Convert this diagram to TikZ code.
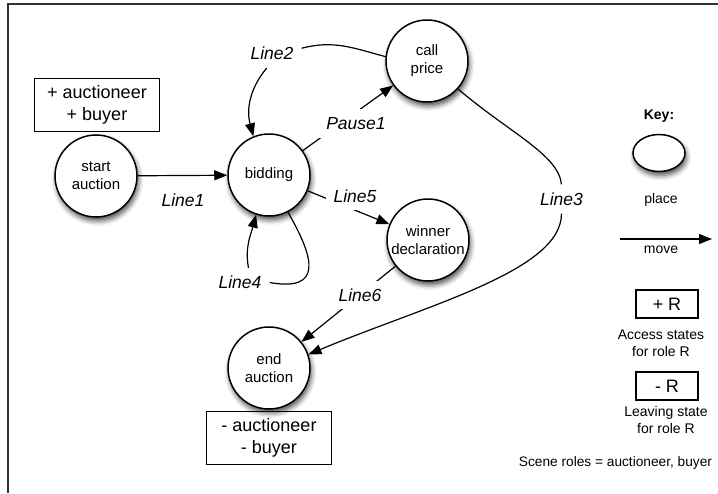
\documentclass[tikz,border=0pt]{standalone}
\usepackage{fontspec}
\setmainfont{Liberation Sans}
\usepackage{tikz}
\usetikzlibrary{arrows.meta, shapes.geometric, shadows.blur}

\begin{document}
\begin{tikzpicture}[
    x=1pt, y=1pt,
    place/.style={circle, draw, line width=1.5pt, fill=white, minimum size=82pt, inner sep=0pt, align=center,
        font=\fontsize{15}{18}\selectfont,
        blur shadow={shadow xshift=1.5pt, shadow yshift=-4pt, shadow blur radius=5pt, shadow opacity=70}},
    roles/.style={draw, line width=1.2pt, minimum width=125pt, minimum height=53pt, align=center, font=\fontsize{18}{21.6}\selectfont},
    keybox/.style={draw, line width=1.2pt, minimum width=62pt, minimum height=28pt, font=\fontsize{18}{21.6}\selectfont},
    keytext/.style={align=center, font=\fontsize{14}{16.8}\selectfont},
    lab/.style={fill=white, inner sep=8pt, font=\fontsize{17.5}{21}\selectfont\itshape},
    link/.style={line width=1.2pt},
    arr/.style={link, -{Triangle[length=13pt, width=10pt]}},
]
\useasboundingbox (0,0) rectangle (718,-493);

% Frame
\draw[line width=1.5pt, black!80] (8,-493) -- (8,-4) -- (718,-4);

% Places
\node[place] (start) at (96,-176) {start\\auction};
\node[place] (bid) at (269,-175) {bidding};
\node[place] (call) at (427,-61) {call\\price};
\node[place] (win) at (428,-240) {winner\\declaration};
\node[place] (end) at (269,-368) {end\\auction};

% Roles
\node[roles] (enter) at (97,-105) {+ auctioneer\\+ buyer};
\node[roles] (leave) at (269,-438) {- auctioneer\\- buyer};

% Straight moves
\draw[arr] (start) -- (bid);
\draw[arr] (bid) -- (call);
\draw[arr] (bid) -- (win);
\draw[arr] (win) -- (end);

% Move labels
\node[lab] (l1) at (183,-200) {Line1};
\node[lab] (l2) at (272,-53.5) {Line2};
\node[lab] (l3) at (561.5,-199) {Line3};
\node[lab] (l4) at (240,-282.5) {Line4};
\node[lab] (l5) at (355,-196) {Line5};
\node[lab] (l6) at (360,-295) {Line6};
\node[lab] (p1) at (356,-123.5) {Pause1};

% Curved moves
\draw[link] (call.174) to[out=165, in=15] (l2.10);
\draw[arr] (l2.250) to[out=-130, in=105] (bid.112);
\draw[link] (call.-42) .. controls +(50,-43) and +(-3,30) .. (l3.north);
\draw[arr] (l3.south) .. controls +(0,-57) and +(120,50) .. (end.19);
\draw[link] (bid.-63) to[out=-60, in=-10, looseness=1.9] (l4.east);
\draw[arr] (l4.60) to[out=100, in=-105] (bid.-108);

% Key
\node[keytext, font=\fontsize{14}{16.8}\selectfont\bfseries] (keyhead) at (659,-116.5) {Key:};
\node[place, ellipse, minimum size=0pt, minimum width=52pt, minimum height=37pt] (keyplace) at (659,-153) {};
\node[keytext] (placetext) at (661,-199.5) {place};
\coordinate (mvA) at (620,-239);
\coordinate (mvB) at (712,-239);
\draw[arr] (mvA) -- (mvB);
\node[keytext] (movetext) at (661,-249.5) {move};
\node[keybox] (plusR) at (667,-304) {+ R};
\node[keytext] (access) at (661,-343) {Access states\\for role R};
\node[keybox] (minusR) at (667,-386) {- R};
\node[keytext] (leaving) at (666,-420) {Leaving state\\for role R};
\node[keytext, font=\fontsize{13.7}{16}\selectfont] (scene) at (615.5,-463) {Scene roles = auctioneer, buyer};
\end{tikzpicture}
\end{document}
